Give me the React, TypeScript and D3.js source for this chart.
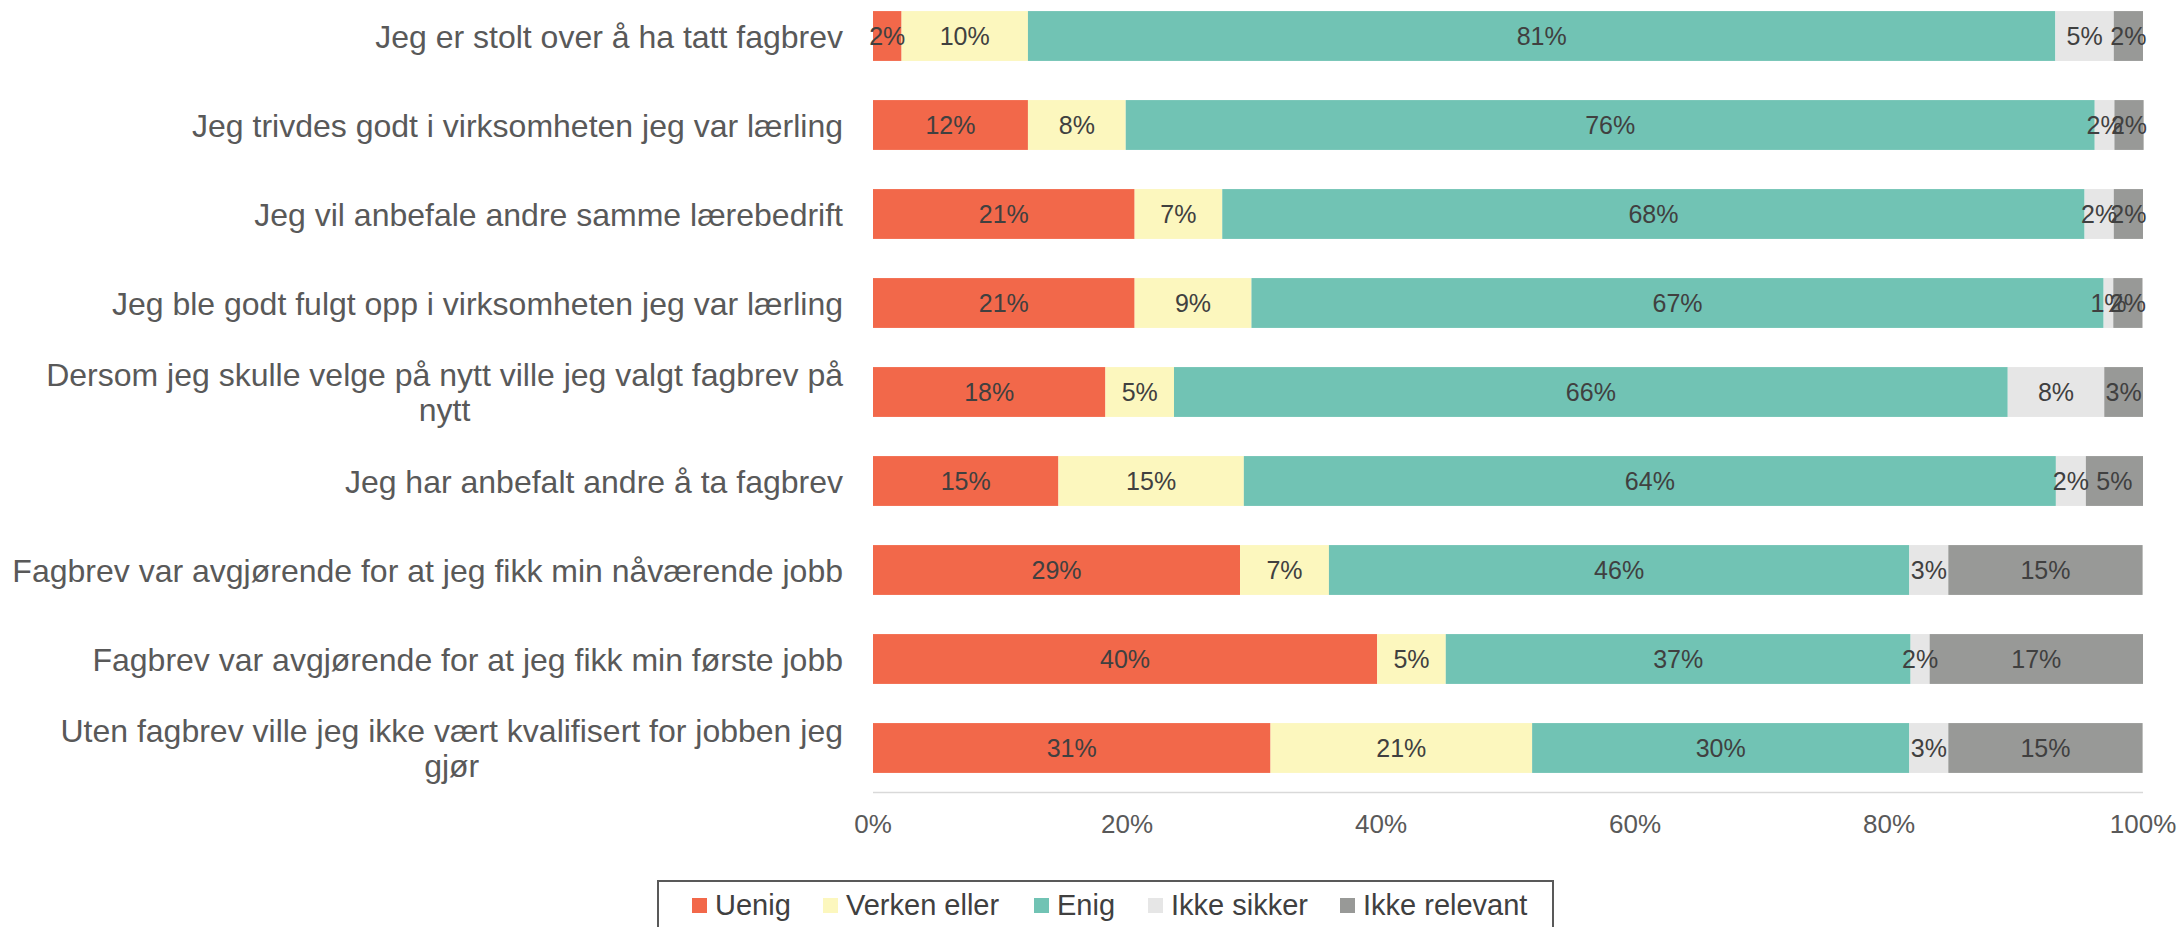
import React, { useEffect, useRef } from 'react';
import * as d3 from 'd3';

const categories = [
  'Jeg er stolt over å ha tatt fagbrev',
  'Jeg trivdes godt i virksomheten jeg var lærling',
  'Jeg vil anbefale andre samme lærebedrift',
  'Jeg ble godt fulgt opp i virksomheten jeg var lærling',
  'Dersom jeg skulle velge på nytt ville jeg valgt fagbrev på|nytt',
  'Jeg har anbefalt andre å ta fagbrev',
  'Fagbrev var avgjørende for at jeg fikk min nåværende jobb',
  'Fagbrev var avgjørende for at jeg fikk min første jobb',
  'Uten fagbrev ville jeg ikke vært kvalifisert for jobben jeg|gjør',
];

const seriesNames = ['Uenig', 'Verken eller', 'Enig', 'Ikke sikker', 'Ikke relevant'];
const seriesColors = ['#F2684A', '#FCF7BE', '#71C3B4', '#E6E6E6', '#989997'];

// percent values per series, one per category (same order as categories)
const uenig = [2.25, 12.2, 20.6, 20.6, 18.3, 14.6, 28.9, 39.7, 31.3];
const verken = [9.95, 7.7, 6.9, 9.2, 5.4, 14.6, 7.0, 5.4, 20.6];
const enig = [80.9, 76.3, 67.9, 67.1, 65.65, 63.94, 45.7, 36.6, 29.7];
const ikkeSikker = [4.6, 1.55, 2.3, 0.76, 7.6, 2.36, 3.07, 1.5, 3.07];
const ikkeRelevant = [2.3, 2.3, 2.3, 2.3, 3.05, 4.5, 15.3, 16.8, 15.3];

const xTicks = [0, 20, 40, 60, 80, 100];

const FONT = '"Liberation Sans", Arial, sans-serif';

export default function App() {
  const ref = useRef<SVGSVGElement>(null);

  useEffect(() => {
    const svg = d3.select(ref.current);
    svg.selectAll('*').remove();

    const left = 873, right = 2143, axisY = 792.5;
    const series = [uenig, verken, enig, ikkeSikker, ikkeRelevant];

    const x = d3.scaleLinear().domain([0, 100]).range([left, right]);
    const y = d3
      .scaleBand()
      .domain(categories)
      .range([-8.5, axisY])
      .paddingInner(0.44)
      .paddingOuter(0.22);

    const rows = categories.map((c, i) => {
      const r: any = { cat: c };
      seriesNames.forEach((s, j) => (r[s] = series[j][i]));
      return r;
    });
    const stacked = d3.stack().keys(seriesNames)(rows);

    // axis line
    svg
      .append('line')
      .attr('x1', left)
      .attr('x2', right)
      .attr('y1', axisY)
      .attr('y2', axisY)
      .attr('stroke', '#D9D9D9')
      .attr('stroke-width', 1.5);

    const g = svg.append('g');
    stacked.forEach((layer, j) => {
      g.append('g')
        .attr('fill', seriesColors[j])
        .selectAll('rect')
        .data(layer)
        .enter()
        .append('rect')
        .attr('x', d => x(d[0]))
        .attr('y', d => y((d.data as any).cat)!)
        .attr('width', d => x(d[1]) - x(d[0]))
        .attr('height', y.bandwidth());
    });

    // data labels
    stacked.forEach(layer => {
      g.append('g')
        .selectAll('text')
        .data(layer)
        .enter()
        .append('text')
        .attr('x', d => (x(d[0]) + x(d[1])) / 2)
        .attr('y', d => y((d.data as any).cat)! + y.bandwidth() / 2)
        .attr('dy', '0.36em')
        .attr('text-anchor', 'middle')
        .attr('font-family', FONT)
        .attr('font-size', 25)
        .attr('fill', '#404040')
        .text(d => Math.round(d[1] - d[0]) + '%');
    });

    // category labels
    const labelX = left - 30;
    categories.forEach(c => {
      const lines = c.split('|');
      const cy = y(c)! + y.bandwidth() / 2;
      if (lines.length === 1) {
        svg
          .append('text')
          .attr('x', labelX)
          .attr('y', cy)
          .attr('dy', '0.36em')
          .attr('text-anchor', 'end')
          .attr('font-family', FONT)
          .attr('font-size', 32)
          .attr('fill', '#595959')
          .text(c);
      } else {
        const lh = 35;
        const t1 = svg
          .append('text')
          .attr('x', labelX)
          .attr('y', cy - lh / 2)
          .attr('dy', '0.36em')
          .attr('text-anchor', 'end')
          .attr('font-family', FONT)
          .attr('font-size', 32)
          .attr('fill', '#595959')
          .text(lines[0]);
        const w = (t1.node() as SVGTextElement).getComputedTextLength();
        svg
          .append('text')
          .attr('x', labelX - w / 2)
          .attr('y', cy + lh / 2)
          .attr('dy', '0.36em')
          .attr('text-anchor', 'middle')
          .attr('font-family', FONT)
          .attr('font-size', 32)
          .attr('fill', '#595959')
          .text(lines[1]);
      }
    });

    // x tick labels
    svg
      .append('g')
      .selectAll('text')
      .data(xTicks)
      .enter()
      .append('text')
      .attr('x', d => x(d))
      .attr('y', 833)
      .attr('text-anchor', 'middle')
      .attr('font-family', FONT)
      .attr('font-size', 26)
      .attr('fill', '#595959')
      .text(d => d + '%');

    // legend
    const legendX = [692, 823, 1034, 1148, 1340];
    svg
      .append('rect')
      .attr('x', 658)
      .attr('y', 881)
      .attr('width', 895)
      .attr('height', 70)
      .attr('fill', 'none')
      .attr('stroke', '#595959')
      .attr('stroke-width', 2);
    const lg = svg
      .append('g')
      .selectAll('g')
      .data(seriesNames)
      .enter()
      .append('g')
      .attr('transform', (d, i) => 'translate(' + legendX[i] + ',0)');
    lg.append('rect')
      .attr('x', 0)
      .attr('y', 898)
      .attr('width', 15)
      .attr('height', 15)
      .attr('fill', (d, i) => seriesColors[i]);
    lg.append('text')
      .attr('x', 23)
      .attr('y', 915)
      .attr('font-family', FONT)
      .attr('font-size', 29)
      .attr('fill', '#404040')
      .text(d => d);
  }, []);

  return (
    <svg
      ref={ref}
      width="2181"
      height="927"
      viewBox="0 0 2181 927"
      style={{ position: 'absolute', left: 0, top: 0, background: '#fff' }}
    />
  );
}
